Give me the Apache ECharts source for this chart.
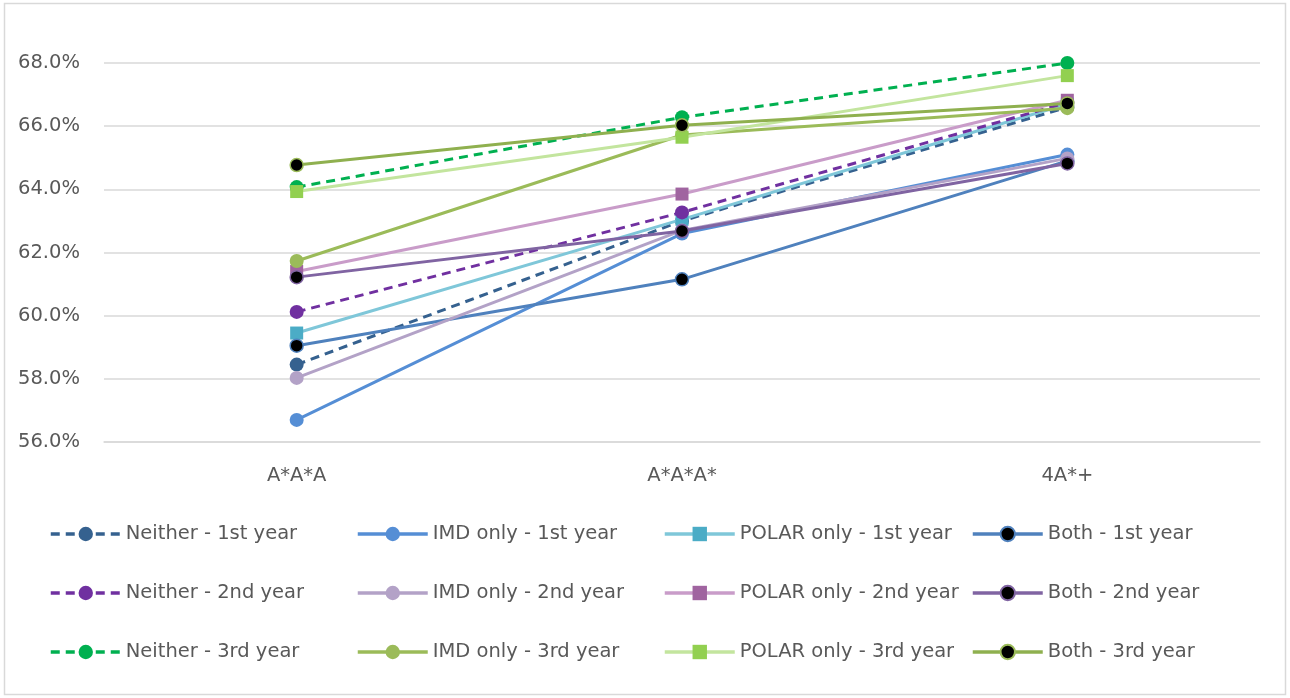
<!DOCTYPE html>
<html>
<head>
<meta charset="utf-8">
<script src="https://cdn.jsdelivr.net/npm/echarts@6/dist/echarts.min.js"></script>
<style>
  html, body { margin: 0; padding: 0; background: #fff; }
  #chart { width: 1290px; height: 698px; }
</style>
</head>
<body>
<div id="chart"></div>
<script>
// Grade-profile categories on the x axis
const categories = ['A*A*A', 'A*A*A*', '4A*+'];

// Y axis ticks (percent)
const yMin = 56, yMax = 68, yStep = 2;

// Series values (percent)
const neither1 = [58.45, 63.0, 66.6];
const imd1     = [56.7, 62.6, 65.1];
const polar1   = [59.45, 63.05, 66.7];
const both1    = [59.05, 61.15, 64.9];
const neither2 = [60.12, 63.27, 66.75];
const imd2     = [58.03, 62.7, 64.98];
const polar2   = [61.4, 63.85, 66.82];
const both2    = [61.22, 62.68, 64.82];
const neither3 = [64.07, 66.28, 68.0];
const imd3     = [61.73, 65.72, 66.57];
const polar3   = [63.93, 65.65, 67.6];
const both3    = [64.77, 66.03, 66.72];

const seriesNames = [
  'Neither - 1st year', 'IMD only - 1st year', 'POLAR only - 1st year', 'Both - 1st year',
  'Neither - 2nd year', 'IMD only - 2nd year', 'POLAR only - 2nd year', 'Both - 2nd year',
  'Neither - 3rd year', 'IMD only - 3rd year', 'POLAR only - 3rd year', 'Both - 3rd year'
];
const seriesData = [neither1, imd1, polar1, both1, neither2, imd2, polar2, both2, neither3, imd3, polar3, both3];

const FONT = '"DejaVu Sans", sans-serif';
const TEXT = '#595959';

// kind: neither = dashed + filled circle, imd = solid + filled circle,
// polar = light line + darker square, both = solid + black circle
const styles = [
  { kind: 'neither', line: '#35618f', mark: '#35618f' },
  { kind: 'imd',     line: '#558ed5', mark: '#558ed5' },
  { kind: 'polar',   line: '#7fc7d9', mark: '#4bacc6' },
  { kind: 'both',    line: '#4f81bd', mark: '#4f81bd' },
  { kind: 'neither', line: '#7030a0', mark: '#7030a0' },
  { kind: 'imd',     line: '#b3a2c7', mark: '#b3a2c7' },
  { kind: 'polar',   line: '#c99cc9', mark: '#a064a0' },
  { kind: 'both',    line: '#8064a2', mark: '#8064a2' },
  { kind: 'neither', line: '#00b050', mark: '#00b050' },
  { kind: 'imd',     line: '#9bbb59', mark: '#9bbb59' },
  { kind: 'polar',   line: '#c3e59e', mark: '#92d050' },
  { kind: 'both',    line: '#8fb04f', mark: '#9bbb59' }
];

const series = seriesNames.map((name, i) => {
  const s = styles[i];
  const base = {
    name,
    type: 'line',
    data: seriesData[i],
    z: 2 + i,
    animation: false,
    lineStyle: { color: s.line, width: 3, type: s.kind === 'neither' ? [9, 6] : 'solid' }
  };
  if (s.kind === 'polar') {
    base.symbol = 'rect';
    base.symbolSize = 13;
    base.itemStyle = { color: s.mark, borderWidth: 0 };
  } else if (s.kind === 'both') {
    base.symbol = 'circle';
    base.symbolSize = 13;
    base.itemStyle = { color: '#000', borderColor: s.mark, borderWidth: 1.5 };
  } else {
    base.symbol = 'circle';
    base.symbolSize = 14;
    base.itemStyle = { color: s.mark, borderWidth: 0 };
  }
  base.showSymbol = true;
  return base;
});

// One legend column per group (Neither / IMD / POLAR / Both), three rows each
const legendLefts = [49, 356, 663, 971];
const legends = legendLefts.map((left, c) => ({
  orient: 'vertical',
  left: left,
  top: 524,
  padding: 0,
  itemWidth: 70,
  itemHeight: 18,
  itemGap: 39,
  selectedMode: false,
  lineStyle: { width: 3.5 },
  data: [seriesNames[c], seriesNames[c + 4], seriesNames[c + 8]],
  textStyle: { color: TEXT, fontFamily: FONT, fontSize: 19.5, lineHeight: 20 }
}));

const chart = echarts.init(document.getElementById('chart'), null, { renderer: 'canvas' });
chart.setOption({
  backgroundColor: '#ffffff',
  animation: false,
  graphic: [{
    type: 'rect',
    shape: { x: 4.5, y: 3.5, width: 1281, height: 691 },
    style: { fill: 'none', stroke: '#d9d9d9', lineWidth: 1.5 },
    silent: true,
    z: -1
  }],
  grid: { left: 104, right: 30, top: 63, bottom: 256, containLabel: false },
  legend: legends,
  xAxis: {
    type: 'category',
    data: categories,
    boundaryGap: true,
    axisLine: { show: true, lineStyle: { color: '#d9d9d9', width: 1.5 } },
    axisTick: { show: false },
    axisLabel: { color: TEXT, fontFamily: FONT, fontSize: 19.5, margin: 24 }
  },
  yAxis: {
    type: 'value',
    min: yMin,
    max: yMax,
    interval: yStep,
    axisLine: { show: false },
    axisTick: { show: false },
    splitLine: { lineStyle: { color: '#d9d9d9', width: 1.5 } },
    axisLabel: {
      color: TEXT, fontFamily: FONT, fontSize: 19.5, margin: 24,
      formatter: v => v.toFixed(1) + '%'
    }
  },
  series
});
</script>
</body>
</html>
